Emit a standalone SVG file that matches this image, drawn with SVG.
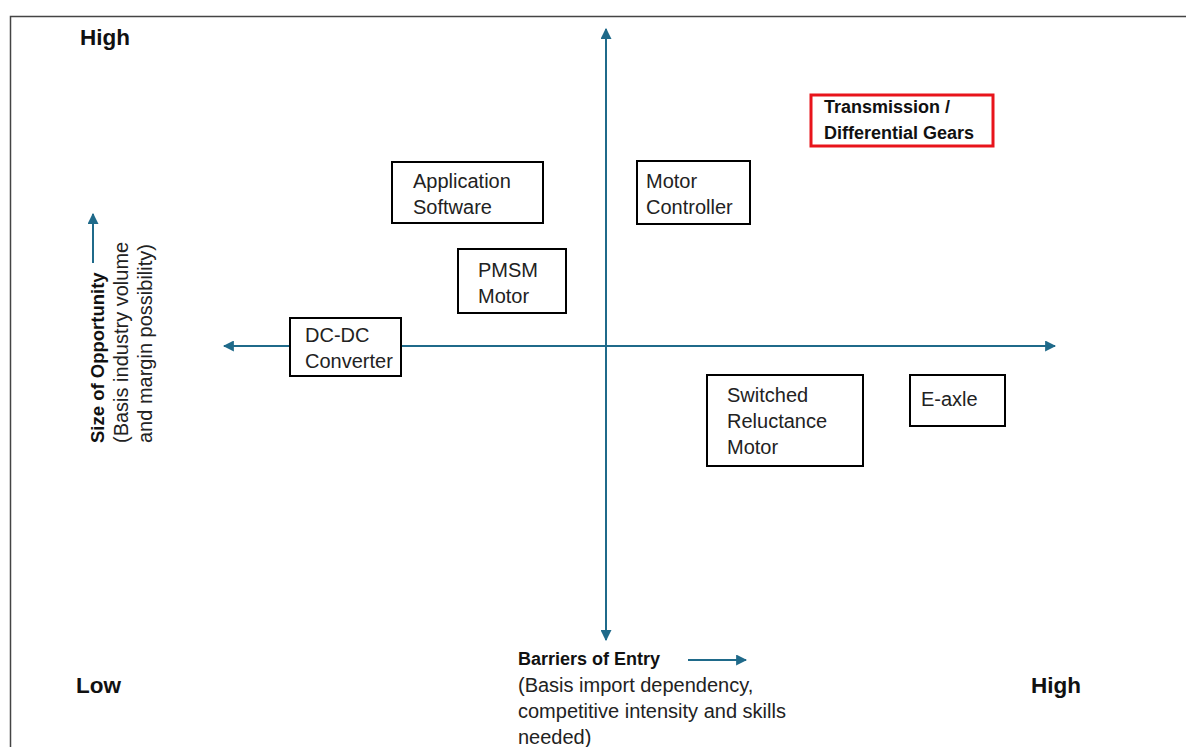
<svg xmlns="http://www.w3.org/2000/svg" width="1186" height="747" viewBox="0 0 1186 747">
<defs>
<marker id="ah" viewBox="0 0 10 10" refX="9" refY="5" markerWidth="5.5" markerHeight="5.5" orient="auto-start-reverse" markerUnits="strokeWidth">
<path d="M0,0 L10,5 L0,10 z" fill="#1f6a8a"/>
</marker>
<style>
.box{fill:#fff;stroke:#000;stroke-width:2}
.t{font-family:"Liberation Sans",Arial,sans-serif;font-size:20px;fill:#222}
.b{font-family:"Liberation Sans",Arial,sans-serif;font-weight:bold;fill:#111}
.ax{stroke:#1f6a8a;stroke-width:2;fill:none}
</style>
</defs>
<rect x="0" y="0" width="1186" height="747" fill="#fff"/>
<path d="M10.5,747 V16.5 H1186" fill="none" stroke="#444" stroke-width="1.5"/>
<g id="connectors">
<line class="ax" x1="224" y1="346" x2="1055" y2="346" marker-start="url(#ah)" marker-end="url(#ah)"/>
<line class="ax" x1="606" y1="29" x2="606" y2="640" marker-start="url(#ah)" marker-end="url(#ah)"/>
<line class="ax" x1="93" y1="263" x2="93" y2="214" marker-end="url(#ah)"/>
<line class="ax" x1="688" y1="660" x2="746" y2="660" marker-end="url(#ah)"/>
</g>
<g id="labels">
<text class="b" x="80" y="45" font-size="22.5">High</text>
<text class="b" x="76" y="693" font-size="22.5">Low</text>
<text class="b" x="1031" y="693" font-size="22.5">High</text>
<text class="b" x="518" y="665" font-size="18">Barriers of Entry</text>
<text class="t" x="518" y="692">(Basis import dependency,</text>
<text class="t" x="518" y="718">competitive intensity and skills</text>
<text class="t" x="518" y="744">needed)</text>
<g transform="translate(104,443) rotate(-90)">
<text class="b" x="0" y="0" font-size="18.5">Size of Opportunity</text>
<text class="t" x="0" y="24" font-size="19.5">(Basis industry volume</text>
<text class="t" x="0" y="48" font-size="19.5">and margin possibility)</text>
</g>
</g>
<g id="node-app">
<rect class="box" x="392" y="162" width="151" height="61"/>
<text class="t" x="413" y="188">Application</text>
<text class="t" x="413" y="214">Software</text>
</g>
<g id="node-motor-controller">
<rect class="box" x="637" y="161" width="113" height="63"/>
<text class="t" x="646" y="188">Motor</text>
<text class="t" x="646" y="214">Controller</text>
</g>
<g id="node-pmsm">
<rect class="box" x="458" y="249" width="108" height="64"/>
<text class="t" x="478" y="277">PMSM</text>
<text class="t" x="478" y="303">Motor</text>
</g>
<g id="node-dcdc">
<rect class="box" x="290" y="318" width="111" height="58"/>
<text class="t" x="305" y="342">DC-DC</text>
<text class="t" x="305" y="368">Converter</text>
</g>
<g id="node-srm">
<rect class="box" x="707" y="375" width="156" height="91"/>
<text class="t" x="727" y="402">Switched</text>
<text class="t" x="727" y="428">Reluctance</text>
<text class="t" x="727" y="454">Motor</text>
</g>
<g id="node-eaxle">
<rect class="box" x="910" y="375" width="95" height="51"/>
<text class="t" x="921" y="406">E-axle</text>
</g>
<g id="node-transmission">
<rect x="811" y="95" width="182" height="51" fill="#fff" stroke="#e8141b" stroke-width="3"/>
<text class="b" x="824" y="113" font-size="18">Transmission /</text>
<text class="b" x="824" y="139" font-size="18">Differential Gears</text>
</g>
</svg>
